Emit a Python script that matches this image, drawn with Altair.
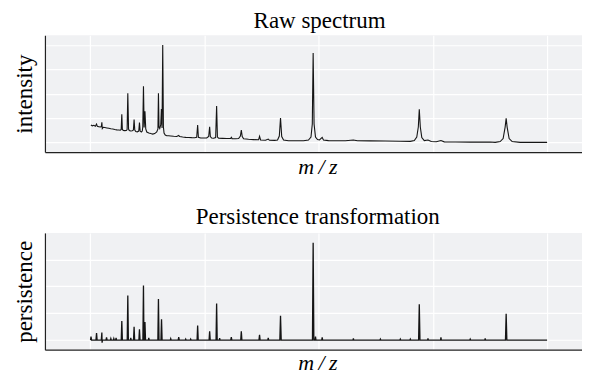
import altair as alt
import pandas as pd

# ---- Raw spectrum (m/z, intensity) ----
raw_mz = [2017, 2044, 2070, 2096, 2117, 2131, 2157, 2183, 2201, 2210, 2218, 2236, 2262, 2297, 2332, 2367, 2402,
          2437, 2472, 2507, 2533,
          2548, 2559, 2569, 2585, 2611, 2638, 2652, 2664, 2677, 2690, 2716, 2742, 2762, 2774, 2786, 2804, 2830,
          2856, 2868, 2880, 2900, 2917, 2926, 2938, 2950, 2964, 2978, 2996, 3031, 3066, 3100, 3135, 3170, 3191,
          3200, 3210, 3223, 3240, 3252, 3263, 3275, 3287, 3298, 3319, 3345, 3380, 3415, 3467, 3520, 3555, 3572,
          3624, 3677, 3729, 3782, 3834, 3869, 3886, 3899, 3939, 3991, 4044, 4079, 4096, 4108, 4131, 4166, 4201,
          4218, 4232, 4253, 4323, 4393, 4463, 4475, 4489, 4550, 4603, 4634, 4650, 4666, 4690, 4777, 4865, 4952,
          4969, 4987, 5074, 5121, 5144, 5231, 5284, 5315, 5336, 5357, 5389, 5476, 5598, 5738, 5825, 5869, 5892,
          5907, 5923, 5948, 5983, 6018, 6065, 6087, 6175, 6297, 6472, 6611, 6681, 6908, 7170, 7432, 7607, 7677,
          7720, 7747, 7764, 7782, 7808, 7851, 7916, 7974, 8061, 8143, 8201, 8393, 8655, 8830, 9004, 9092, 9179,
          9231, 9266, 9284, 9301, 9336, 9389, 9529, 9791, 10000]
raw_int = [17.8, 17.0, 17.5, 16.5, 18.8, 16.4, 16.1, 15.8, 16.2, 20.6, 14.2, 15.5, 15.2, 14.8, 14.4, 14.0, 13.7,
           13.2, 12.8, 12.6, 12.4,
           13.2, 28.8, 13.2, 12.2, 12.0, 12.1, 13.2, 50.3, 13.7, 12.1, 11.6, 11.8, 12.8, 23.4, 12.6, 11.1, 10.8,
           11.6, 20.3, 11.6, 10.6, 11.6, 15.7, 57.5, 15.2, 31.9, 13.7, 10.6, 9.6, 9.0, 8.5, 9.0, 10.6, 13.7,
           50.3, 15.7, 14.2, 17.8, 34.2, 14.7, 100.0, 15.7, 9.6, 7.5, 6.8, 6.7, 6.5, 6.2, 6.0, 7.0, 5.9,
           5.4, 5.1, 5.0, 4.8, 4.7, 5.1, 17.8, 5.2, 4.4, 4.4, 4.4, 6.0, 16.0, 6.0, 4.4, 4.2, 4.9,
           37.3, 5.4, 4.2, 4.1, 4.0, 4.0, 5.1, 3.8, 3.7, 3.9, 6.5, 12.6, 6.0, 3.6, 3.1, 2.8, 2.6,
           6.2, 2.4, 2.2, 3.4, 2.1, 2.0, 2.4, 6.5, 25.0, 6.0, 2.4, 1.7, 1.6, 1.7, 2.4, 5.4, 18.8,
           91.8, 18.8, 5.4, 2.9, 2.4, 5.1, 2.4, 1.8, 1.6, 1.6, 2.4, 1.6, 1.5, 1.3, 1.1, 1.0, 1.8,
           5.4, 15.7, 33.9, 15.7, 4.9, 1.8, 2.4, 0.8, 0.6, 1.8, 0.5, 0.3, 0.2, 0.2, 0.3, 0.0, 0.8,
           3.9, 15.7, 24.7, 15.7, 3.9, 0.8, 0.0, 0.0, 0.0]

# ---- Persistence transformation (m/z, persistence) ----
pers_mz = [2012, 2020, 2030, 2107, 2117, 2127, 2200, 2210, 2214, 2220, 2282, 2292, 2302, 2360, 2367, 2375,
           2412, 2419, 2427, 2450, 2459, 2468, 2549, 2559, 2569, 2654, 2664, 2674, 2708, 2716, 2724,
           2764, 2774, 2784, 2858, 2868, 2878, 2928, 2938, 2946, 2956, 2964, 2974, 3023, 3031, 3039,
           3190, 3200, 3210, 3244, 3254, 3264, 3408, 3415, 3422, 3545, 3555, 3565, 3670, 3677, 3684,
           3757, 3764, 3771, 3876, 3886, 3896, 4086, 4096, 4106, 4208, 4218, 4228, 4264, 4271, 4278,
           4465, 4475, 4485, 4640, 4650, 4660, 4959, 4969, 4979, 5113, 5121, 5129, 5324, 5336, 5348,
           5895, 5907, 5919, 5940, 5948, 5956, 6057, 6065, 6073, 6604, 6611, 6618, 7076, 7083, 7090,
           7425, 7432, 7439, 7600, 7607, 7614, 7752, 7764, 7776, 7909, 7916, 7923, 8136, 8143, 8150,
           8648, 8655, 8662, 8910, 8917, 8924, 9272, 9284, 9296, 10000]
pers_val = [0, 3.3, 0, 0, 6.5, 0, 0, 7.0, -2.5, 0, 0, 2.5, 0, 0, 1.4, 0,
            0, 1.4, 0, 0, 1.9, 0, 0, 17.6, 0, 0, 41.4, 0, 0, 1.9, 0,
            0, 12.3, 0, 0, 9.9, 0, 0, 50.6, 0, 0, 16.7, 0, 0, 1.9, 0,
            0, 38.2, 0, 0, 19.4, 0, 0, 1.2, 0, 0, 2.8, 0, 0, 0.9, 0,
            0, 0.9, 0, 0, 13.6, 0, 0, 8.1, 0, 0, 34.0, 0, 0, 1.9, 0,
            0, 2.8, 0, 0, 8.1, 0, 0, 4.9, 0, 0, 1.9, 0, 0, 22.5, 0,
            0, 90.4, 0, 0, 3.3, 0, 0, 2.4, 0, 0, 1.5, 0, 0, 0.9, 0,
            0, 0.9, 0, 0, 0.9, 0, 0, 33.3, 0, 0, 1.5, 0, 0, 2.4, 0,
            0, 0.9, 0, 0, 1.5, 0, 0, 24.4, 0, 0]

grid_mz = [2000, 4000, 6000, 8000, 10000]
grid_int = [0, 25, 50, 75, 100]
grid_pers = [0, 25, 50, 75]

raw_df = pd.DataFrame({"mz": raw_mz, "intensity": raw_int})
pers_df = pd.DataFrame({"mz": pers_mz, "persistence": pers_val})

SERIF = "Liberation Serif"
MZ_TITLE = "m\u2009/\u2009z"

x_scale = alt.Scale(domain=[1214, 10611], nice=False, zero=False)


def x_enc(pad):
    return alt.X("mz:Q", scale=x_scale,
                 axis=alt.Axis(values=grid_mz, title=MZ_TITLE, titleFontStyle="italic",
                               titleFontSize=22, titlePadding=pad, titleX=273))


top = alt.Chart(raw_df).mark_line(color="#151515", strokeWidth=1.1).encode(
    x=x_enc(4),
    y=alt.Y("intensity:Q", scale=alt.Scale(domain=[-10, 110], nice=False, zero=False),
            axis=alt.Axis(values=grid_int, title="intensity", titlePadding=8)),
).properties(width=538, height=117,
             title=alt.TitleParams("Raw spectrum", frame="group", anchor="start", dx=209, offset=2))

bottom = alt.Chart(pers_df).mark_line(color="#151515", strokeWidth=1.3).encode(
    x=x_enc(3),
    y=alt.Y("persistence:Q", scale=alt.Scale(domain=[-9, 99.6], nice=False, zero=False),
            axis=alt.Axis(values=grid_pers, title="persistence", titlePadding=8)),
).properties(width=538, height=117,
             title=alt.TitleParams("Persistence transformation", frame="group", anchor="start",
                                   dx=151, offset=4))

chart = alt.vconcat(top, bottom, spacing=29).properties(
    padding={"left": 6, "top": 2, "right": 0, "bottom": 0}
).configure_view(
    fill="#F0F1F3", stroke=None
).configure_axis(
    labels=False, ticks=False, grid=True, gridColor="white", gridWidth=1.2,
    domain=True, domainColor="#222222", domainWidth=1.2,
    titleFont=SERIF, titleFontSize=23, titleFontWeight="normal", titleColor="black",
).configure_title(
    font=SERIF, fontSize=23, fontWeight="normal", color="black"
)

chart.save("out.html", embed_options={"renderer": "svg", "actions": False})
